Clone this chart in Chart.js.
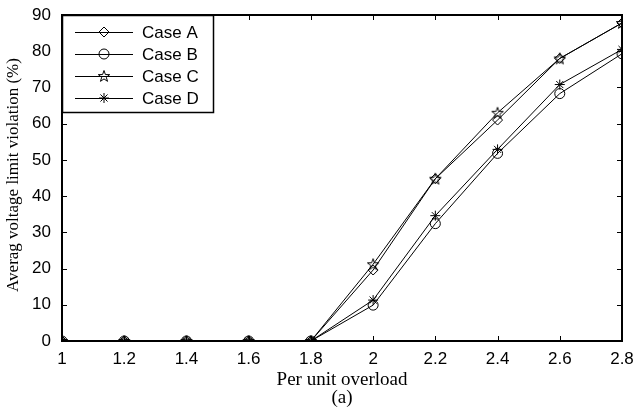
<!DOCTYPE html>
<html>
<head>
<meta charset="utf-8">
<script src="https://cdn.jsdelivr.net/npm/chart.js@4.4.0/dist/chart.umd.min.js"></script>
<style>
  html, body { margin: 0; padding: 0; background: #fff; }
  canvas { display: block; }
</style>
</head>
<body>
<canvas id="violation" width="636" height="407"></canvas>
<script>
// per unit overload on x, average voltage limit violation (%) on y
const overload = [1, 1.2, 1.4, 1.6, 1.8, 2, 2.2, 2.4, 2.6, 2.8];
const xTickLabels = ['1', '1.2', '1.4', '1.6', '1.8', '2', '2.2', '2.4', '2.6', '2.8'];
const yTicks = [0, 10, 20, 30, 40, 50, 60, 70, 80, 90];

const caseA = [0, 0, 0, 0, 0, 19.6, 44.8, 61.0, 78.0, 87.8];
const caseB = [0, 0, 0, 0, 0, 9.9, 32.4, 51.8, 68.3, 79.3];
const caseC = [0, 0, 0, 0, 0, 21.2, 44.8, 63.0, 78.0, 87.8];
const caseD = [0, 0, 0, 0, 0, 11.3, 34.6, 52.9, 70.8, 80.5];
const caseNames = ['Case A', 'Case B', 'Case C', 'Case D'];

const SANS = '"Liberation Sans", Arial, sans-serif';
const SERIF = '"Liberation Serif", "Times New Roman", serif';

// five pointed star outline (chart.js has no pentagram style)
function makePentagram(r) {
  const size = Math.ceil(r * 2 + 4);
  const c = document.createElement('canvas');
  c.width = c.height = size;
  const g = c.getContext('2d');
  g.strokeStyle = '#000';
  g.lineWidth = 1;
  g.beginPath();
  for (let i = 0; i < 10; i++) {
    const rad = i % 2 === 0 ? r : r * 0.4;
    const a = -Math.PI / 2 + i * Math.PI / 5;
    const px = size / 2 + rad * Math.cos(a);
    const py = size / 2 + rad * Math.sin(a) + 0.5;
    if (i === 0) g.moveTo(px, py); else g.lineTo(px, py);
  }
  g.closePath();
  g.stroke();
  return c;
}
const pentagram = makePentagram(6);

const markers = ['rectRot', 'circle', pentagram, 'star'];
const series = [caseA, caseB, caseC, caseD];

const toPoints = vals => overload.map((x, i) => ({ x: x, y: vals[i] }));

const datasets = series.map((vals, i) => ({
  label: caseNames[i],
  data: toPoints(vals),
  borderColor: '#000',
  borderWidth: 1,
  pointStyle: markers[i],
  pointRadius: 5,
  pointBorderWidth: 1,
  pointBorderColor: '#000',
  pointBackgroundColor: 'rgba(0,0,0,0)',
  tension: 0,
  fill: false
}));

// box + inward ticks on all four sides
const axesBox = {
  id: 'axesBox',
  beforeDatasetsDraw(chart) {
    const { ctx, chartArea: a, scales: { x, y } } = chart;
    ctx.save();
    ctx.strokeStyle = '#000';
    ctx.lineWidth = 1;
    ctx.beginPath();
    overload.forEach(v => {
      const px = Math.round(x.getPixelForValue(v)) + 0.5;
      ctx.moveTo(px, a.bottom); ctx.lineTo(px, a.bottom - 5);
      ctx.moveTo(px, a.top); ctx.lineTo(px, a.top + 5);
    });
    yTicks.forEach(v => {
      const py = Math.round(y.getPixelForValue(v)) + 0.5;
      ctx.moveTo(a.left, py); ctx.lineTo(a.left + 5, py);
      ctx.moveTo(a.right, py); ctx.lineTo(a.right - 5, py);
    });
    ctx.stroke();
    ctx.lineWidth = 2;
    ctx.strokeRect(a.left, a.top, a.right - a.left, a.bottom - a.top);
    ctx.restore();
  }
};

// legend box in the upper left corner, plus axis titles
const annotations = {
  id: 'annotations',
  afterDraw(chart) {
    const { ctx, chartArea: a } = chart;
    ctx.save();

    const box = { x: a.left, y: a.top, w: 151, h: 97 };
    ctx.fillStyle = '#fff';
    ctx.fillRect(box.x, box.y, box.w, box.h);
    ctx.strokeStyle = '#000';
    ctx.lineWidth = 1.5;
    ctx.strokeRect(box.x + 0.5, box.y + 0.5, box.w, box.h);
    ctx.lineWidth = 1;

    ctx.font = '17px ' + SANS;
    ctx.textBaseline = 'middle';
    ctx.textAlign = 'left';
    caseNames.forEach((name, i) => {
      const rowY = box.y + 17 + i * 22;
      ctx.beginPath();
      ctx.moveTo(box.x + 13, rowY + 0.5);
      ctx.lineTo(box.x + 71, rowY + 0.5);
      ctx.stroke();
      ctx.fillStyle = 'rgba(0,0,0,0)';
      Chart.helpers.drawPoint(ctx, {
        pointStyle: markers[i], radius: 5, borderWidth: 1, rotation: 0
      }, box.x + 42, rowY);
      ctx.fillStyle = '#000';
      ctx.fillText(name, box.x + 80, rowY + 1);
    });

    ctx.fillStyle = '#000';
    ctx.textAlign = 'center';
    ctx.font = '19px ' + SERIF;
    const midX = (a.left + a.right) / 2;
    ctx.fillText('Per unit overload', midX, 380);
    ctx.fillText('(a)', midX, 398);

    ctx.font = '17px ' + SERIF;
    ctx.translate(14, (a.top + a.bottom) / 2 - 3);
    ctx.rotate(-Math.PI / 2);
    ctx.fillText('Averag voltage limit violation (%)', 0, 0);
    ctx.restore();
  }
};

new Chart(document.getElementById('violation').getContext('2d'), {
  type: 'line',
  data: { datasets: datasets },
  options: {
    responsive: false,
    animation: false,
    layout: { padding: { left: 0, right: 14, top: 15, bottom: 0 } },
    plugins: { legend: { display: false }, tooltip: { enabled: false } },
    scales: {
      x: {
        type: 'linear',
        min: 1,
        max: 2.8,
        grid: { display: false },
        border: { display: false },
        afterBuildTicks: s => { s.ticks = overload.map(v => ({ value: v })); },
        afterFit: s => { s.height = 66; },
        ticks: {
          color: '#000',
          font: { family: SANS, size: 17 },
          padding: 0,
          maxRotation: 0,
          autoSkip: false,
          callback: (v, i) => xTickLabels[i]
        }
      },
      y: {
        min: 0,
        max: 90,
        grid: { display: false },
        border: { display: false },
        afterBuildTicks: s => { s.ticks = yTicks.map(v => ({ value: v })); },
        afterFit: s => { s.width = 62; },
        ticks: {
          color: '#000',
          font: { family: SANS, size: 17 },
          padding: 3
        }
      }
    }
  },
  plugins: [axesBox, annotations]
});
</script>
</body>
</html>
